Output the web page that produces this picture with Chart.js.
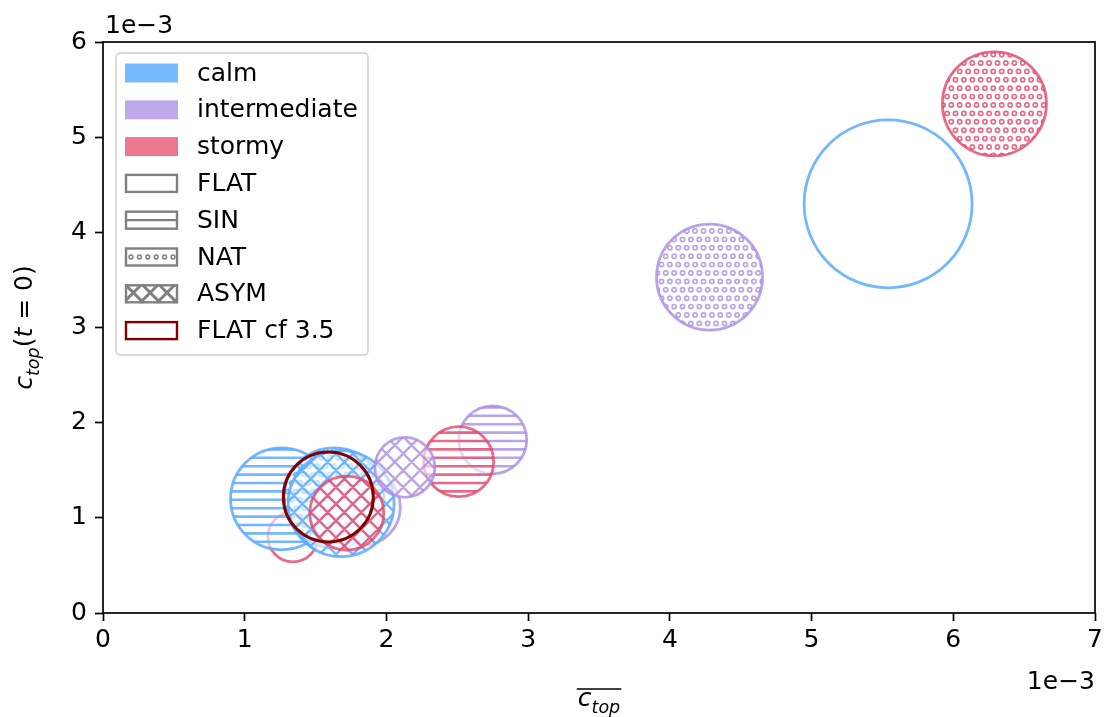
<!DOCTYPE html>
<html>
<head>
<meta charset="utf-8">
<script src="https://cdn.jsdelivr.net/npm/chart.js@4.4.1/dist/chart.umd.min.js"></script>
<style>
  body { margin: 0; background: #fff; }
  #wrap { width: 1110px; height: 717px; }
</style>
</head>
<body>
<div id="wrap"><canvas id="bubbles" width="1110" height="717"></canvas></div>
<script>
// values are in units of 1e-3; r is the bubble radius in px
const regimes = ["calm", "intermediate", "stormy"];
const forcings = ["FLAT", "SIN", "NAT", "ASYM"];

const flatX = [5.54, 1.83, 1.34];
const flatY = [4.30, 1.11, 0.80];
const flatR = [84, 38, 25];

const sinX = [1.26, 2.75, 2.51];
const sinY = [1.20, 1.82, 1.59];
const sinR = [51, 34, 35];

const natX = [1.63, 4.28, 6.29];
const natY = [1.21, 3.53, 5.35];
const natR = [50, 53, 52];

const asymX = [1.68, 2.13, 1.72];
const asymY = [1.15, 1.53, 1.05];
const asymR = [53, 30, 37];

// FLAT run with cf = 3.5 (calm)
const cfX = [1.59];
const cfY = [1.22];
const cfR = [45];

const xTicks = [0, 1, 2, 3, 4, 5, 6, 7];
const yTicks = [0, 1, 2, 3, 4, 5, 6];

const FONT = "DejaVu Sans";
const FS = 25;
const lineColours = ["rgba(90,170,255,0.85)", "rgba(170,140,225,0.8)", "rgba(225,70,105,0.8)"];
const patchColours = ["rgb(119,185,255)", "rgb(191,170,233)", "rgb(236,119,143)"];
const cfColour = "#800000";
const STEP = 8.4;
const TILE = 84;

// hatch tile: translucent white with the forcing's pattern on top
function makeHatch(kind, colour, wash) {
  const c = document.createElement("canvas");
  c.width = TILE;
  c.height = TILE;
  const g = c.getContext("2d");
  g.fillStyle = wash;
  g.fillRect(0, 0, TILE, TILE);
  g.strokeStyle = colour;
  g.lineWidth = 2.6;
  if (kind === "SIN") {
    g.beginPath();
    for (let k = 0; k < 10; k++) {
      const y = k * STEP + STEP / 2;
      g.moveTo(0, y);
      g.lineTo(TILE, y);
    }
    g.stroke();
  } else if (kind === "ASYM") {
    // diagonals in both directions, twice the stripe spacing
    const d = 2 * STEP;
    g.lineWidth = 2.4;
    g.beginPath();
    for (let k = -6; k <= 11; k++) {
      g.moveTo(k * d, 0);
      g.lineTo(k * d + TILE, TILE);
      g.moveTo(k * d, 0);
      g.lineTo(k * d - TILE, TILE);
    }
    g.stroke();
  } else if (kind === "NAT") {
    g.lineWidth = 1.7;
    for (let j = 0; j < 10; j++) {
      for (let i = -1; i <= 10; i++) {
        const x = i * STEP + (j % 2 ? STEP / 2 : 0) + STEP / 4;
        const y = j * STEP + STEP / 2;
        g.beginPath();
        g.arc(x, y, 2.1, 0, Math.PI * 2);
        g.stroke();
      }
    }
  }
  return g.createPattern(c, "repeat");
}

const wash = "rgba(255,255,255,0.6)";
function bubbleSet(kind, xs, ys, rs, order) {
  return {
    label: kind,
    data: xs.map((x, i) => ({ x: x, y: ys[i], r: rs[i] })),
    backgroundColor: regimes.map((_, i) => makeHatch(kind, lineColours[i], wash)),
    borderColor: lineColours,
    borderWidth: 2.8,
    order: order
  };
}

const datasets = [
  bubbleSet("FLAT", flatX, flatY, flatR, 5),
  bubbleSet("SIN", sinX, sinY, sinR, 4),
  bubbleSet("NAT", natX, natY, natR, 3),
  bubbleSet("ASYM", asymX, asymY, asymR, 2),
  {
    label: "FLAT cf 3.5",
    data: cfX.map((x, i) => ({ x: x, y: cfY[i], r: cfR[i] })),
    backgroundColor: "rgba(0,0,0,0)",
    borderColor: cfColour,
    borderWidth: 3,
    order: 1
  }
];

// subscripted / italic label pieces
function drawMath(ctx, parts, size) {
  let x = 0;
  for (const p of parts) {
    const fs = p.sub ? size * 0.7 : size;
    ctx.font = (p.it ? "italic " : "") + fs + "px " + FONT;
    ctx.fillText(p.t, x, p.sub ? size * 0.28 : 0);
    x += ctx.measureText(p.t).width;
  }
  return x;
}
function mathWidth(ctx, parts, size) {
  let w = 0;
  for (const p of parts) {
    ctx.font = (p.it ? "italic " : "") + (p.sub ? size * 0.7 : size) + "px " + FONT;
    w += ctx.measureText(p.t).width;
  }
  return w;
}

const legendRows = [
  { text: "calm", fill: patchColours[0] },
  { text: "intermediate", fill: patchColours[1] },
  { text: "stormy", fill: patchColours[2] },
  { text: "FLAT", hatch: "FLAT" },
  { text: "SIN", hatch: "SIN" },
  { text: "NAT", hatch: "NAT" },
  { text: "ASYM", hatch: "ASYM" },
  { text: "FLAT cf 3.5", edge: cfColour }
];

const decorations = {
  id: "decorations",
  afterDraw(chart) {
    const ctx = chart.ctx;
    const a = chart.chartArea;
    ctx.save();

    // spines
    ctx.strokeStyle = "#000";
    ctx.lineWidth = 1.7;
    ctx.strokeRect(a.left, a.top, a.right - a.left, a.bottom - a.top);

    // offset labels
    ctx.fillStyle = "#000";
    ctx.font = FS + "px " + FONT;
    ctx.textBaseline = "alphabetic";
    ctx.textAlign = "left";
    ctx.fillText("1e\u22123", a.left + 2, 33);
    ctx.textAlign = "right";
    ctx.fillText("1e\u22123", a.right, 689);
    ctx.textAlign = "left";

    // x title: overline c_top
    const xParts = [{ t: "c", it: true }, { t: "top", it: true, sub: true }];
    const xw = mathWidth(ctx, xParts, FS);
    const xc = (a.left + a.right) / 2;
    ctx.save();
    ctx.translate(xc - xw / 2, 706);
    drawMath(ctx, xParts, FS);
    ctx.restore();
    ctx.beginPath();
    ctx.lineWidth = 1.6;
    ctx.moveTo(xc - xw / 2 - 1, 689);
    ctx.lineTo(xc + xw / 2 + 1, 689);
    ctx.stroke();

    // y title: c_top(t = 0)
    const yParts = [
      { t: "c", it: true }, { t: "top", it: true, sub: true },
      { t: "(" }, { t: "t", it: true }, { t: " = " }, { t: "0)" }
    ];
    const yw = mathWidth(ctx, yParts, FS);
    ctx.save();
    ctx.translate(32, (a.top + a.bottom) / 2 + yw / 2);
    ctx.rotate(-Math.PI / 2);
    drawMath(ctx, yParts, FS);
    ctx.restore();

    // legend
    const lx = 116, ly = 53, lw = 252, lh = 302;
    ctx.beginPath();
    ctx.roundRect(lx, ly, lw, lh, 4);
    ctx.fillStyle = "rgba(255,255,255,0.8)";
    ctx.fill();
    ctx.strokeStyle = "#cccccc";
    ctx.lineWidth = 1.4;
    ctx.stroke();

    const pw = 53, ph = 19;
    legendRows.forEach((row, i) => {
      const cy = 73 + i * 36.8;
      const px = 125, py = cy - ph / 2;
      if (row.fill) {
        ctx.fillStyle = row.fill;
        ctx.fillRect(px, py, pw, ph);
      } else {
        ctx.save();
        ctx.beginPath();
        ctx.rect(px, py, pw, ph);
        ctx.clip();
        ctx.fillStyle = "#fff";
        ctx.fillRect(px, py, pw, ph);
        if (row.hatch && row.hatch !== "FLAT") {
          ctx.strokeStyle = "#808080";
          ctx.lineWidth = 2.2;
          ctx.beginPath();
          if (row.hatch === "SIN") {
            ctx.moveTo(px, cy);
            ctx.lineTo(px + pw, cy);
            ctx.stroke();
          } else if (row.hatch === "NAT") {
            ctx.lineWidth = 1.5;
            for (let k = 0; k < 7; k++) {
              ctx.moveTo(px + 6 + k * STEP + 1.9, cy);
              ctx.arc(px + 6 + k * STEP, cy, 1.9, 0, Math.PI * 2);
            }
            ctx.stroke();
          } else {
            for (let k = -4; k < 12; k++) {
              ctx.moveTo(px + k * 2 * STEP, py);
              ctx.lineTo(px + k * 2 * STEP + ph, py + ph);
              ctx.moveTo(px + k * 2 * STEP, py);
              ctx.lineTo(px + k * 2 * STEP - ph, py + ph);
            }
            ctx.lineWidth = 3;
            ctx.stroke();
          }
        }
        ctx.restore();
        ctx.strokeStyle = row.edge || "#808080";
        ctx.lineWidth = 2.4;
        ctx.strokeRect(px + 1, py + 1, pw - 2, ph - 2);
      }
      ctx.fillStyle = "#000";
      ctx.font = FS + "px " + FONT;
      ctx.textBaseline = "middle";
      ctx.textAlign = "left";
      ctx.fillText(row.text, 197, cy + 1);
    });

    ctx.restore();
  }
};

const tickFont = { family: FONT, size: FS };

new Chart(document.getElementById("bubbles"), {
  type: "bubble",
  data: { datasets: datasets },
  options: {
    responsive: false,
    animation: false,
    devicePixelRatio: 1,
    events: [],
    layout: { autoPadding: false, padding: { left: 0, top: 42, right: 15, bottom: 0 } },
    plugins: {
      legend: { display: false },
      tooltip: { enabled: false }
    },
    scales: {
      x: {
        type: "linear",
        min: 0,
        max: 7,
        afterBuildTicks: (s) => { s.ticks = xTicks.map(v => ({ value: v })); },
        afterFit: (s) => { s.height = 104; },
        ticks: { font: tickFont, color: "#000", padding: 4 },
        grid: { drawOnChartArea: false, tickLength: 8, tickWidth: 1.7, tickColor: "#000" },
        border: { display: false }
      },
      y: {
        type: "linear",
        min: 0,
        max: 6,
        afterBuildTicks: (s) => { s.ticks = yTicks.map(v => ({ value: v })); },
        afterFit: (s) => { s.width = 103; },
        ticks: { font: tickFont, color: "#000", padding: 8 },
        grid: { drawOnChartArea: false, tickLength: 8, tickWidth: 1.7, tickColor: "#000" },
        border: { display: false }
      }
    }
  },
  plugins: [decorations]
});
</script>
</body>
</html>
